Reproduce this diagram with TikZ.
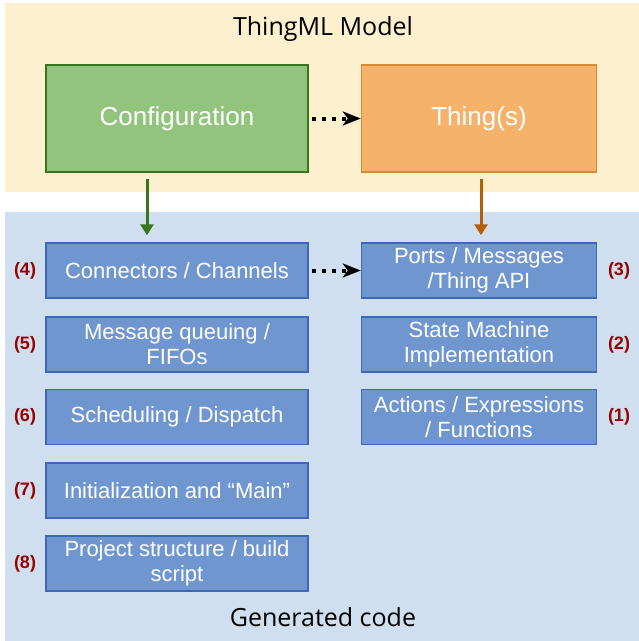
\documentclass[tikz,border=0pt]{standalone}
\usepackage{fontspec}
\setmainfont{Liberation Sans}
\newfontfamily\titlefont{Open Sans}
\usepackage{xcolor}
\usepackage{tikz}
\usetikzlibrary{arrows.meta,positioning,calc}

\definecolor{bandyellow}{HTML}{FDF0CF}
\definecolor{bandblue}{HTML}{CFDFEF}
\definecolor{confgreen}{HTML}{93C47D}
\definecolor{confdark}{HTML}{38761D}
\definecolor{thingorange}{HTML}{F6B26B}
\definecolor{thingdark}{HTML}{D98A35}
\definecolor{arroworange}{HTML}{B45F06}
\definecolor{codeblue}{HTML}{7096D0}
\definecolor{codedark}{HTML}{3D67B8}
\definecolor{numred}{HTML}{990000}

\begin{document}
\begin{tikzpicture}[x=1pt,y=-1pt,
	codebox/.style={draw=codedark,fill=codeblue,line width=1.5pt,text=white,
		minimum height=55pt,inner sep=0pt,align=center,
		font=\fontsize{22}{25}\selectfont},
	modelbox/.style={line width=1.5pt,text=white,minimum height=107pt,inner sep=0pt,
		font=\fontsize{26}{29}\selectfont},
	num/.style={text=numred,font=\bfseries\fontsize{18}{20}\selectfont},
	dots/.style={line width=4pt,dash pattern=on 4pt off 6pt,
		-{Stealth[length=18pt,width=14pt,inset=5pt]}},
	down/.style={line width=3pt,-{Triangle[length=11pt,width=13pt]}}]
		\useasboundingbox (0,0) rectangle (639,641);

		% Bands
		\fill[bandyellow] (5,3) rectangle (639,192);
		\fill[bandblue] (5,212) rectangle (639,641);
		\node[font=\titlefont\fontsize{25}{28}\selectfont] (model) at (323,29) {ThingML Model};
		\node[font=\titlefont\fontsize{25}{28}\selectfont] (gen) at (323,617) {Generated code};

		% Model
		\node[modelbox,draw=confdark,fill=confgreen,minimum width=262pt] (conf) at (177,118.5) {Configuration};
		\node[modelbox,draw=thingdark,fill=thingorange,minimum width=235pt] (thing) at (479,118.5) {Thing(s)};

		% Generated code, left column
		\node[codebox,minimum width=262pt] (conn) at (177,270.5) {Connectors / Channels};
		\node[codebox,minimum width=262pt] (queue) at (177,344.5) {Message queuing /\\FIFOs};
		\node[codebox,minimum width=262pt] (sched) at (177,417) {Scheduling / Dispatch};
		\node[codebox,minimum width=262pt] (init) at (177,490.5) {Initialization and “Main”};
		\node[codebox,minimum width=262pt] (proj) at (177,563.5) {Project structure / build\\script};

		% Generated code, right column
		\node[codebox,minimum width=235pt] (ports) at (479,270.5) {Ports / Messages\\/Thing API};
		\node[codebox,minimum width=235pt] (sm) at (479,344.5) {State Machine\\Implementation};
		\node[codebox,minimum width=235pt] (act) at (479,417) {Actions / Expressions\\/ Functions};

		% Numbers
		\node[num] (n4) at (25,270.5) {(4)};
		\node[num] (n5) at (25,344.5) {(5)};
		\node[num] (n6) at (25,417) {(6)};
		\node[num] (n7) at (25,490.5) {(7)};
		\node[num] (n8) at (25,563.5) {(8)};
		\node[num] (n3) at (619,270.5) {(3)};
		\node[num] (n2) at (619,344.5) {(2)};
		\node[num] (n1) at (619,417) {(1)};

		% Arrows
		\draw[dots] ([xshift=3pt]conf.east) -- (thing.west);
		\draw[dots] ([xshift=3pt]conn.east) -- (ports.west);
		\draw[down,confdark,shorten <=6pt,shorten >=7pt] ([xshift=-30pt]conf.south) -- ([xshift=-30pt]conn.north);
		\draw[down,arroworange,shorten <=6pt,shorten >=7pt] ([xshift=2pt]thing.south) -- ([xshift=2pt]ports.north);
	\end{tikzpicture}
\end{document}
